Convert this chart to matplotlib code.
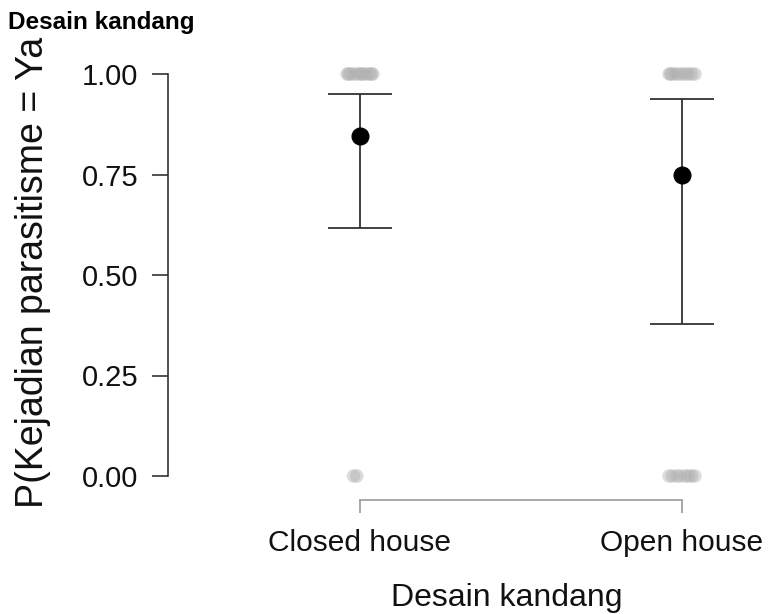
import matplotlib
matplotlib.use("Agg")
import matplotlib.pyplot as plt

plt.rcParams['font.family'] = ['Liberation Sans', 'DejaVu Sans']

categories = ["Closed house", "Open house"]
estimates = [0.846, 0.749]
ci_lower = [0.617, 0.378]
ci_upper = [0.950, 0.938]

# observed outcomes (0/1) with horizontal jitter offsets for display
obs_closed_y = [1, 1, 1, 1, 1, 1, 1, 1, 1, 1, 1, 1, 0, 0]
obs_closed_dx = [-0.04, -0.03, -0.02, -0.01, 0.0, 0.01, 0.02, 0.03, 0.04, -0.035, 0.035, 0.005, -0.02, -0.01]
obs_open_y = [1, 1, 1, 1, 1, 1, 1, 1, 1, 1, 0, 0, 0, 0, 0, 0, 0, 0]
obs_open_dx = [-0.04, -0.03, -0.02, -0.01, 0.0, 0.01, 0.02, 0.03, 0.04, -0.035,
               -0.04, -0.03, -0.015, -0.005, 0.01, 0.02, 0.03, 0.04]

W, H, DPI = 768, 614, 100
fig = plt.figure(figsize=(W / DPI, H / DPI), dpi=DPI)
ax_left, ax_right, ax_top, ax_bottom = 168, 760, 55, 500
ax = fig.add_axes([ax_left / W, 1 - ax_bottom / H, (ax_right - ax_left) / W, (ax_bottom - ax_top) / H])

px_per_x = 322.0
x0_px = 360
ax.set_xlim(-(x0_px - ax_left) / px_per_x, (ax_right - x0_px) / px_per_x)
px_per_y = 402.0
y0_px = 476
ax.set_ylim(-(ax_bottom - y0_px) / px_per_y, 1 + (y0_px - px_per_y - ax_top) / px_per_y)

grey = "#b0b0b0"
for i, (ys, dxs) in enumerate([(obs_closed_y, obs_closed_dx), (obs_open_y, obs_open_dx)]):
    ax.scatter([i + d for d in dxs], ys, s=95, color=grey, alpha=0.45, edgecolors="none", zorder=1)

for i in range(len(categories)):
    ax.errorbar(i, estimates[i],
                yerr=[[estimates[i] - ci_lower[i]], [ci_upper[i] - estimates[i]]],
                fmt="o", color="black", ecolor="#333333", elinewidth=1.3,
                capsize=23, capthick=1.3, markersize=12, zorder=3)

ax.spines["top"].set_visible(False)
ax.spines["right"].set_visible(False)
ax.spines["left"].set_bounds(0, 1)
ax.spines["left"].set_color("#333333")
ax.spines["left"].set_linewidth(1.2)
ax.spines["bottom"].set_bounds(0, 1)
ax.spines["bottom"].set_color("#999999")
ax.spines["bottom"].set_linewidth(1.2)

ax.set_yticks([0, 0.25, 0.5, 0.75, 1.0])
ax.set_yticklabels(["0.00", "0.25", "0.50", "0.75", "1.00"])
ax.set_xticks([0, 1])
ax.set_xticklabels(categories)
ax.tick_params(axis="y", length=11.5, width=1.2, color="#333333", labelsize=21, pad=10,
               labelcolor="#111111")
ax.tick_params(axis="x", length=9, width=1.2, color="#999999", labelsize=21.5, pad=12,
               labelcolor="#111111")

fig.text(33 / W, 1 - 272 / H, "P(Kejadian parasitisme = Ya", fontsize=27,
         rotation=90, ha="center", va="center", color="#111111")
fig.text(507 / W, 1 - 598 / H, "Desain kandang", fontsize=23, ha="center", va="center",
         color="#111111")

fig.text(8 / W, 1 - 22 / H, "Desain kandang", fontsize=17.5, fontweight="bold",
         ha="left", va="center")

fig.savefig("out.png", dpi=DPI)
